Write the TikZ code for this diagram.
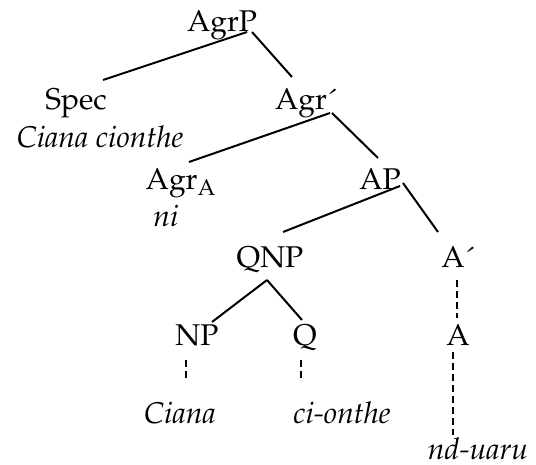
\documentclass[tikz,border=0pt]{standalone}
\usepackage[T1]{fontenc}
\usepackage{mathpazo}
\usepackage{tikz}

\begin{document}
\begin{tikzpicture}[x=0.5pt,y=-0.5pt,line width=1pt,
	lbl/.style={anchor=base,inner sep=0,font=\fontsize{15}{18}\selectfont},
	lex/.style={lbl,font=\fontsize{15}{18}\selectfont\itshape},
	trace/.style={dash pattern=on 3.5pt off 2pt}]
	\useasboundingbox (0,0) rectangle (536,465);
	%labels
	\node[lbl] (agrp) at (222,32) {AgrP};
	\node[lbl] (spec) at (76,110) {Spec};
	\node[lex] (specw) at (100,148) {Ciana cionthe};
	\node[lbl] (agrbar) at (306,110) {Agr\'{}};
	\node[lbl] (agra) at (181,190) {Agr\textsubscript{A}};
	\node[lex] (ni) at (166,227) {ni};
	\node[lbl] (ap) at (380,190) {AP};
	\node[lbl] (qnp) at (270,267) {QNP};
	\node[lbl] (abar) at (458,267) {A\'{}};
	\node[lbl] (np) at (197,345) {NP};
	\node[lbl] (q) at (305,345) {Q};
	\node[lbl] (a) at (458,345) {A};
	\node[lex] (ciana) at (180,423) {Ciana};
	\node[lex] (cionthe) at (342,423) {ci-onthe};
	\node[lex] (nduaru) at (478,459) {nd-uaru};
	
	%branches
	\draw ([shift={(25,0)}]agrp.base)--([shift={(27,-30)}]spec.base);
	\draw ([shift={(30,0)}]agrp.base)--([shift={(-14,-33)}]agrbar.base);
	\draw ([shift={(24,3)}]agrbar.base)--([shift={(8,-28)}]agra.base);
	\draw ([shift={(26,3)}]agrbar.base)--([shift={(-2,-32)}]ap.base);
	\draw ([shift={(20,-4)}]ap.base)--([shift={(13,-35)}]qnp.base);
	\draw ([shift={(23,-7)}]ap.base)--([shift={(-20,-35)}]abar.base);
	\draw ([shift={(-3,13)}]qnp.base)--([shift={(15,-23)}]np.base);
	\draw ([shift={(-3,13)}]qnp.base)--([shift={(-3,-25)}]q.base);
	
	%dashed links
	\draw[trace] ([shift={(-1,13)}]abar.base)--([shift={(-1,-27)}]a.base);
	\draw[trace] ([shift={(-11,15)}]np.base)--([shift={(6,-43)}]ciana.base);
	\draw[trace] ([shift={(-4,15)}]q.base)--([shift={(-41,-43)}]cionthe.base);
	\draw[trace] ([shift={(-5,7)}]a.base)--([shift={(-25,-24)}]nduaru.base);
\end{tikzpicture}
\end{document}
